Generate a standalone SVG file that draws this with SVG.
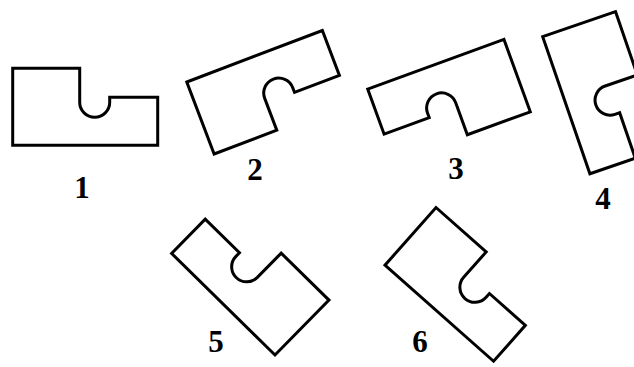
<svg xmlns="http://www.w3.org/2000/svg" xmlns:xlink="http://www.w3.org/1999/xlink" width="634" height="367" viewBox="0 0 634 367">
  <style>
    .piece { fill: #ffffff; stroke: #000000; stroke-width: 3; stroke-linejoin: miter; }
    .lbl { font-family: "Liberation Serif", "Times New Roman", serif; font-weight: bold; font-size: 31px; fill: #000000; text-anchor: middle; }
  </style>
  <defs>
    <path id="pieceA" d="M0,0 H67 V34 A15,15 0 0 0 97,34 V29 H145 V77 H0 Z"/>
    <path id="pieceB" d="M0,0 H145 V48 H97 V43 A15,15 0 0 0 67,43 V77 H0 Z"/>
  </defs>
  <rect width="634" height="367" fill="#ffffff"/>
  <g id="shape1">
    <use xlink:href="#pieceA" class="piece" transform="translate(12.7,68.3)"/>
    <text class="lbl" x="82" y="198">1</text>
  </g>
  <g id="shape2">
    <use xlink:href="#pieceB" class="piece" transform="translate(186.8,82) rotate(-20.8)"/>
    <text class="lbl" x="255" y="180">2</text>
  </g>
  <g id="shape3">
    <use xlink:href="#pieceA" class="piece" transform="translate(530.3,111.8) rotate(160)"/>
    <text class="lbl" x="456" y="179">3</text>
  </g>
  <g id="shape4">
    <use xlink:href="#pieceA" class="piece" transform="translate(615.5,11.6) rotate(71)"/>
    <text class="lbl" x="603" y="209">4</text>
  </g>
  <g id="shape5">
    <use xlink:href="#pieceB" class="piece" transform="translate(275,355) rotate(-135.5)"/>
    <text class="lbl" x="216" y="352">5</text>
  </g>
  <g id="shape6">
    <use xlink:href="#pieceA" class="piece" transform="translate(436,207.5) rotate(41.5)"/>
    <text class="lbl" x="420" y="352">6</text>
  </g>
  <g id="connectors"/>
</svg>
